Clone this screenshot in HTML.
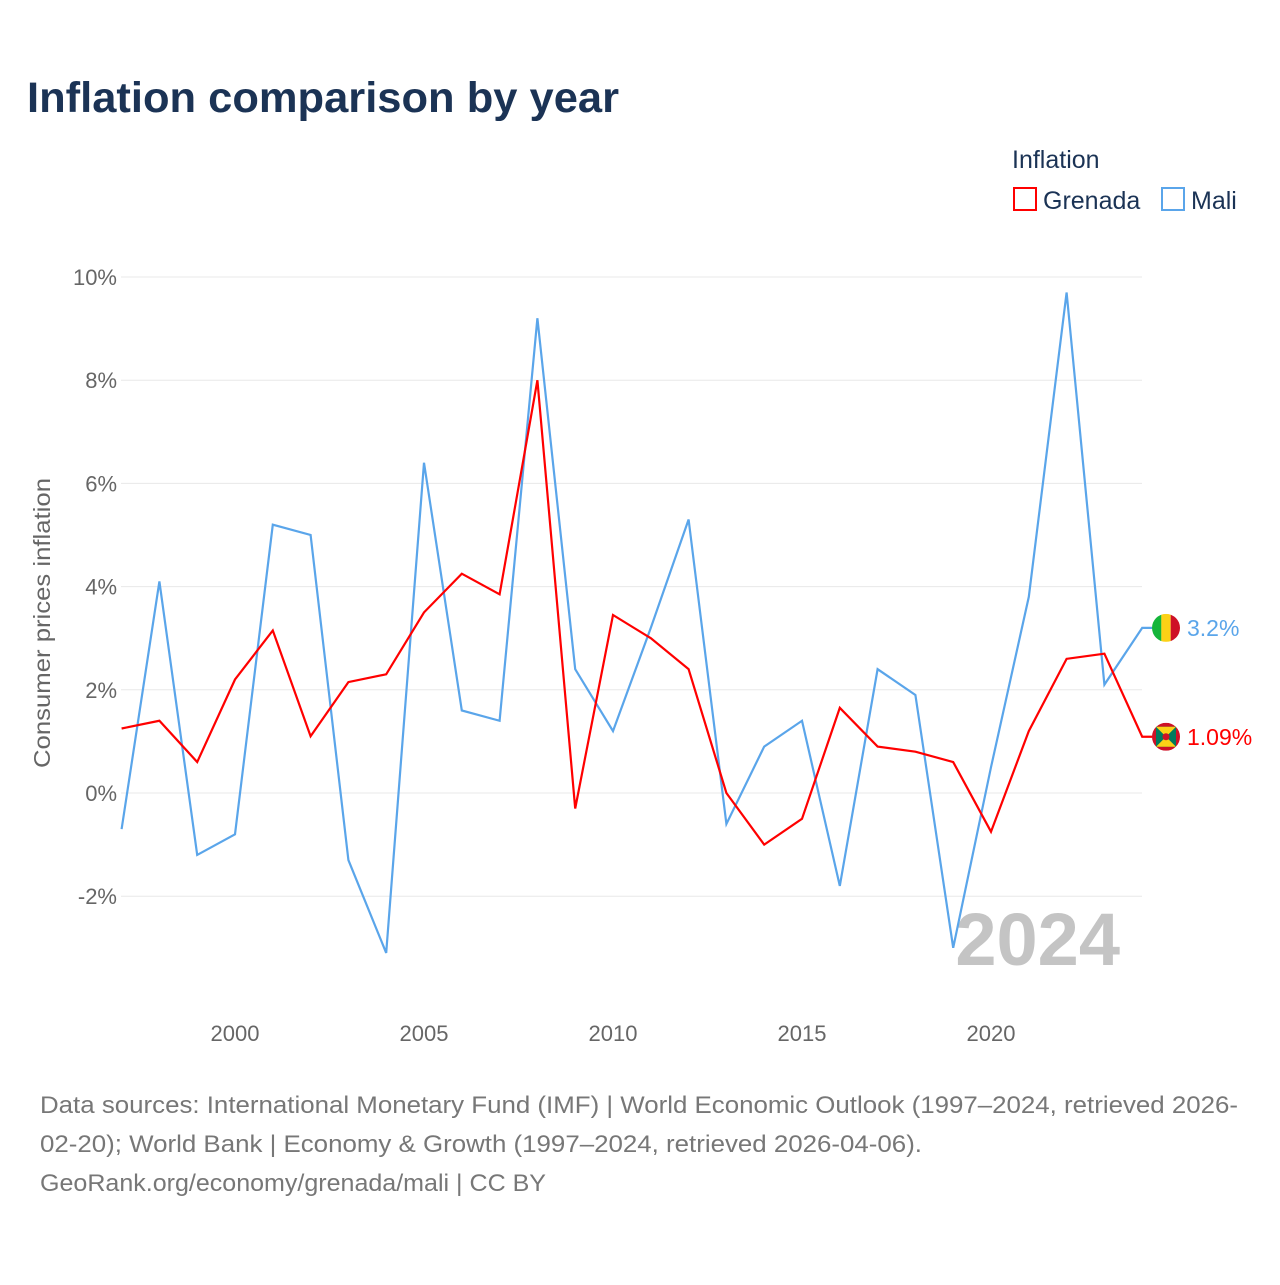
<!DOCTYPE html>
<html><head><meta charset="utf-8"><style>
body{margin:0;background:#fff;font-family:"Liberation Sans",sans-serif;}
</style></head><body>
<svg width="1280" height="1280" xmlns="http://www.w3.org/2000/svg" font-family="Liberation Sans, sans-serif">
<defs>
<clipPath id="c1"><circle cx="1166" cy="628" r="14"/></clipPath>
<clipPath id="c2"><circle cx="1166" cy="736" r="14"/></clipPath>
</defs>
<text x="27" y="112" font-size="43" font-weight="bold" fill="#1b3355" textLength="592" lengthAdjust="spacingAndGlyphs">Inflation comparison by year</text>
<text x="1012" y="168" font-size="25" fill="#1b3355">Inflation</text>
<g><rect x="1014" y="188" width="22" height="22" fill="none" stroke="#ff0000" stroke-width="2"/><text x="1043" y="209" font-size="25" fill="#1b3355">Grenada</text></g>
<g><rect x="1162" y="188" width="22" height="22" fill="none" stroke="#5aa5ea" stroke-width="2"/><text x="1191" y="209" font-size="25" fill="#1b3355">Mali</text></g>
<text transform="translate(50,623) rotate(-90)" text-anchor="middle" font-size="23" fill="#666" textLength="290" lengthAdjust="spacingAndGlyphs">Consumer prices inflation</text>
<g id="grid"></g>
<g id="ylab"></g>
<g id="xlab"></g>
<text x="1120" y="965" text-anchor="end" font-size="74" font-weight="bold" fill="#c4c4c4">2024</text>
<g id="series"></g>
<text x="40" y="1113" font-size="24" fill="#777" textLength="1198" lengthAdjust="spacingAndGlyphs">Data sources: International Monetary Fund (IMF) | World Economic Outlook (1997–2024, retrieved 2026-</text>
<text x="40" y="1152" font-size="24" fill="#777" textLength="882" lengthAdjust="spacingAndGlyphs">02-20); World Bank | Economy &amp; Growth (1997–2024, retrieved 2026-04-06).</text>
<text x="40" y="1191" font-size="24" fill="#777" textLength="506" lengthAdjust="spacingAndGlyphs">GeoRank.org/economy/grenada/mali | CC BY</text>
</svg>
<script>
const years=[1997,1998,1999,2000,2001,2002,2003,2004,2005,2006,2007,2008,2009,2010,2011,2012,2013,2014,2015,2016,2017,2018,2019,2020,2021,2022,2023,2024];
const mali=[-0.7,4.1,-1.2,-0.8,5.2,5.0,-1.3,-3.1,6.4,1.6,1.4,9.2,2.4,1.2,3.2,5.3,-0.6,0.9,1.4,-1.8,2.4,1.9,-3.0,0.5,3.8,9.7,2.1,3.2];
const grenada=[1.25,1.4,0.6,2.2,3.15,1.1,2.15,2.3,3.5,4.25,3.85,8.0,-0.3,3.45,3.0,2.4,0.0,-1.0,-0.5,1.65,0.9,0.8,0.6,-0.75,1.2,2.6,2.7,1.09];
const yTicks=[-2,0,2,4,6,8,10];
const xTicks=[2000,2005,2010,2015,2020];
const ns="http://www.w3.org/2000/svg";
const X=y=>121.6+(y-1997)*37.8;
const Y=v=>793-v*51.6;
function mk(t,a,p){const e=document.createElementNS(ns,t);for(const k in a)e.setAttribute(k,a[k]);p.appendChild(e);return e;}
const grid=document.getElementById('grid'),yl=document.getElementById('ylab'),xl=document.getElementById('xlab'),S=document.getElementById('series');
yTicks.forEach(v=>{
  const l=mk('line',{x1:121,x2:1142,y1:Y(v),y2:Y(v),stroke:'#e8e8e8','stroke-width':1},grid);
  
  
  const t=mk('text',{x:117,y:Y(v)+8,'text-anchor':'end','font-size':22,fill:'#666'},yl);
  t.textContent=v+'%';
  
  
});
xTicks.forEach(y=>{
  const t=mk('text',{x:X(y),y:1041,'text-anchor':'middle','font-size':22,fill:'#666'},xl);
  t.textContent=y;
  
  
});
function draw(vals,color,name,label,flag,clip){
  const pts=vals.map((v,i)=>X(years[i])+','+Y(v));
  const last=vals[vals.length-1];
  pts.push((X(years[years.length-1])+10)+','+Y(last));
  const p=mk('polyline',{points:pts.join(' '),fill:'none',stroke:color,'stroke-width':2.2},S);
  
  
  const cy=Y(last),cx=1166;
  document.querySelector('#'+clip+' circle').setAttribute('cy',cy);
  const g=mk('g',{'clip-path':'url(#'+clip+')'},S);
  
  
  if(flag==='mali'){
    mk('rect',{x:cx-14,y:cy-14,width:9.4,height:28,fill:'#14b53a'},g);
    mk('rect',{x:cx-4.7,y:cy-14,width:9.4,height:28,fill:'#fcd116'},g);
    mk('rect',{x:cx+4.7,y:cy-14,width:9.4,height:28,fill:'#ce1126'},g);
  }else{
    mk('rect',{x:cx-14,y:cy-14,width:28,height:28,fill:'#ce1126'},g);
    mk('rect',{x:cx-10,y:cy-10,width:20,height:20,fill:'#007a5e'},g);
    mk('polygon',{points:`${cx-10},${cy-10} ${cx+10},${cy-10} ${cx},${cy}`,fill:'#fcd116'},g);
    mk('polygon',{points:`${cx-10},${cy+10} ${cx+10},${cy+10} ${cx},${cy}`,fill:'#fcd116'},g);
    mk('circle',{cx:cx,cy:cy,r:3.5,fill:'#ce1126'},g);
  }
  const t=mk('text',{x:1187,y:cy+8,'font-size':23,fill:color},S);
  t.textContent=label;
  
  
}
draw(mali,'#5aa5ea','mali','3.2%','mali','c1');
draw(grenada,'#ff0000','grenada','1.09%','grenada','c2');
</script>
</body></html>
